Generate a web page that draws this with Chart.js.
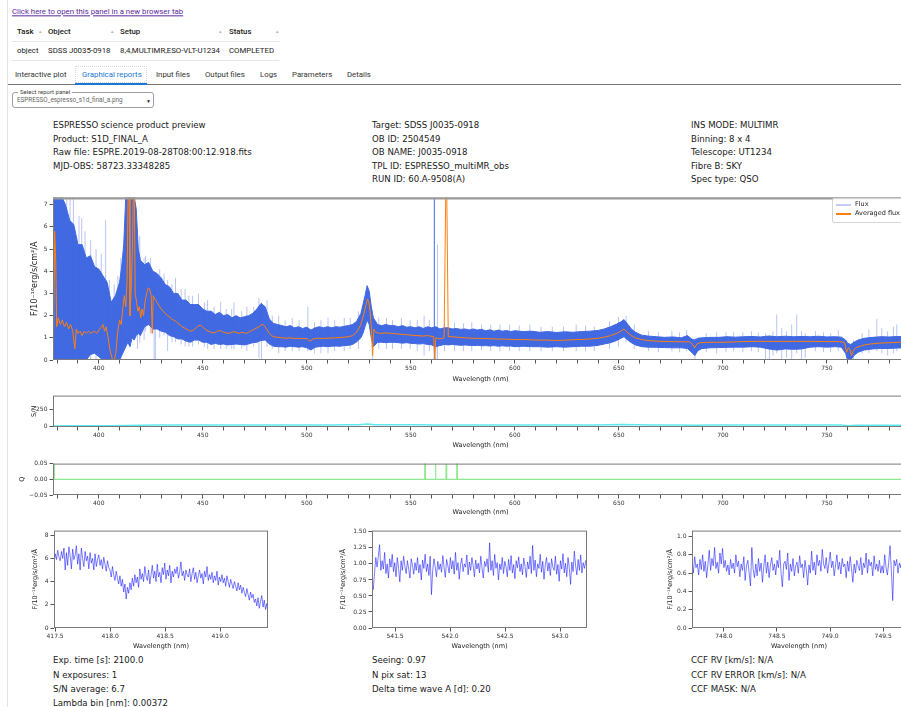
<!DOCTYPE html>
<html>
<head>
<meta charset="utf-8">
<title>ESPRESSO science product preview</title>
<script src="https://cdn.jsdelivr.net/npm/chart.js@4.4.1/dist/chart.umd.min.js"></script>
<style>
  html, body { margin: 0; padding: 0; background: #fff; }
  body { width: 901px; height: 707px; overflow: hidden; position: relative;
         font-family: Roboto, "Noto Sans", sans-serif; color: #222; }
  .t { position: absolute; white-space: nowrap; transform: translateY(-50%); line-height: 1.2; }
  .ui { font-size: 7.8px; }
  .fig { font-family: "DejaVu Sans", sans-serif; font-size: 8.6px; color: #1a1a1a; }
  .sort { font-size: 4.5px; color: #b8b8b8; }
  canvas { position: absolute; }
  .hline { position: absolute; height: 1px; }
</style>
</head>
<body>
<!-- page frame -->
<div style="position:absolute;left:7px;top:0;width:1px;height:707px;background:#e4e4e4;"></div>

<div class="t ui" style="left:12px;top:12px;color:#5b2a9c;text-decoration:underline;">Click here to open this panel in a new browser tab</div>

<!-- task table -->
<div class="t ui" style="left:17px;top:32px;font-weight:500;">Task</div>
<div class="t sort" style="left:38px;top:32px;">▲</div>
<div class="t ui" style="left:48px;top:32px;font-weight:500;">Object</div>
<div class="t sort" style="left:110px;top:32px;">▲</div>
<div class="t ui" style="left:120px;top:32px;font-weight:500;">Setup</div>
<div class="t sort" style="left:218px;top:32px;">▲</div>
<div class="t ui" style="left:229px;top:32px;font-weight:500;">Status</div>
<div class="t sort" style="left:275px;top:32px;">▲</div>
<div class="hline" style="left:12px;top:41px;width:267px;background:#e6e6e6;"></div>
<div class="t ui" style="left:17px;top:51px;">object</div>
<div class="t ui" style="left:48px;top:51px;">SDSS J0035-0918</div>
<div class="t ui" style="left:120px;top:51px;">8,4,MULTIMR,ESO-VLT-U1234</div>
<div class="t ui" style="left:229px;top:51px;">COMPLETED</div>
<div class="hline" style="left:12px;top:60px;width:267px;background:#e6e6e6;"></div>

<!-- tabs -->
<div style="position:absolute;left:75px;top:66px;width:72px;height:17px;border:1px dotted #d6d6d6;box-sizing:border-box;"></div>
<div class="t ui" style="left:15px;top:75px;color:#333;">Interactive plot</div>
<div class="t ui" style="left:82px;top:75px;color:#1976d2;">Graphical reports</div>
<div class="t ui" style="left:156px;top:75px;color:#333;">Input files</div>
<div class="t ui" style="left:205px;top:75px;color:#333;">Output files</div>
<div class="t ui" style="left:260px;top:75px;color:#333;">Logs</div>
<div class="t ui" style="left:292px;top:75px;color:#333;">Parameters</div>
<div class="t ui" style="left:347px;top:75px;color:#333;">Details</div>
<div class="hline" style="left:8px;top:84px;width:893px;background:#777;"></div>
<div class="hline" style="left:75px;top:83px;width:72px;height:2px;background:#1976d2;"></div>

<!-- report selector -->
<div style="position:absolute;left:12px;top:92px;width:142px;height:16px;border:1px solid #9e9e9e;border-radius:3px;box-sizing:border-box;"></div>
<div class="t" style="left:18px;top:92px;font-size:6px;color:#444;background:#fff;padding:0 2px;">Select report panel</div>
<div class="t" style="left:17px;top:100.5px;font-size:6.3px;color:#666;">ESPRESSO_espresso_s1d_final_a.png</div>
<div class="t" style="left:146px;top:100.5px;font-size:5px;color:#222;">▼</div>

<!-- product header -->
<div class="t fig" style="left:53px;top:125px;">ESPRESSO science product preview</div>
<div class="t fig" style="left:53px;top:138.5px;">Product: S1D_FINAL_A</div>
<div class="t fig" style="left:53px;top:152px;">Raw file: ESPRE.2019-08-28T08:00:12.918.fits</div>
<div class="t fig" style="left:53px;top:165.5px;">MJD-OBS: 58723.33348285</div>

<div class="t fig" style="left:372px;top:125px;">Target: SDSS J0035-0918</div>
<div class="t fig" style="left:372px;top:138.5px;">OB ID: 2504549</div>
<div class="t fig" style="left:372px;top:152px;">OB NAME: J0035-0918</div>
<div class="t fig" style="left:372px;top:165.5px;">TPL ID: ESPRESSO_multiMR_obs</div>
<div class="t fig" style="left:372px;top:179px;">RUN ID: 60.A-9508(A)</div>

<div class="t fig" style="left:691px;top:125px;">INS MODE: MULTIMR</div>
<div class="t fig" style="left:691px;top:138.5px;">Binning: 8 x 4</div>
<div class="t fig" style="left:691px;top:152px;">Telescope: UT1234</div>
<div class="t fig" style="left:691px;top:165.5px;">Fibre B: SKY</div>
<div class="t fig" style="left:691px;top:179px;">Spec type: QSO</div>

<canvas id="main"></canvas>
<canvas id="sn"></canvas>
<canvas id="q"></canvas>
<canvas id="z1"></canvas>
<canvas id="z2"></canvas>
<canvas id="z3"></canvas>

<!-- legend of the full spectrum -->
<div style="position:absolute;left:832px;top:198px;width:90px;height:23px;border:1px solid #d4d4d4;border-radius:2px;background:rgba(255,255,255,0.85);"></div>
<div style="position:absolute;left:836px;top:204px;width:15px;height:1.5px;background:#c3cdf4;"></div>
<div class="t fig" style="left:855px;top:204.5px;font-size:6.5px;">Flux</div>
<div style="position:absolute;left:836px;top:213px;width:15px;height:1.5px;background:#ff7f0e;"></div>
<div class="t fig" style="left:855px;top:213.5px;font-size:6.5px;">Averaged flux</div>

<!-- product footer -->
<div class="t fig" style="left:53px;top:660px;">Exp. time [s]: 2100.0</div>
<div class="t fig" style="left:53px;top:674.5px;">N exposures: 1</div>
<div class="t fig" style="left:53px;top:689px;">S/N average: 6.7</div>
<div class="t fig" style="left:53px;top:703px;">Lambda bin [nm]: 0.00372</div>

<div class="t fig" style="left:372px;top:660px;">Seeing: 0.97</div>
<div class="t fig" style="left:372px;top:674.5px;">N pix sat: 13</div>
<div class="t fig" style="left:372px;top:689px;">Delta time wave A [d]: 0.20</div>

<div class="t fig" style="left:691px;top:660px;">CCF RV [km/s]: N/A</div>
<div class="t fig" style="left:691px;top:674.5px;">CCF RV ERROR [km/s]: N/A</div>
<div class="t fig" style="left:691px;top:689px;">CCF MASK: N/A</div>

<script>
// ---------------- full S1D spectrum: flux envelope (nm, 1e-16 erg/s/cm2/A)
const fluxWave = [
  378, 380, 382, 384, 386, 388, 390, 392, 394, 396,
  398, 400, 402, 404, 406, 408, 410, 411, 412, 413,
  414, 415, 416, 417, 418, 419, 420, 422, 424, 426,
  428, 430, 432, 434, 436, 438, 440, 442, 444, 446,
  448, 450, 452, 454, 456, 458, 460, 462, 464, 466,
  468, 470, 472, 474, 476, 478, 480, 482, 484, 486,
  488, 490, 492, 494, 496, 498, 500, 502, 504, 506,
  508, 510, 512, 514, 516, 518, 520, 522, 524, 526,
  527, 528, 529, 530, 531, 532, 534, 536, 538, 540,
  542, 544, 546, 548, 550, 552, 554, 556, 558, 560,
  562, 564, 566, 568, 570, 572, 574, 576, 578, 580,
  582, 584, 586, 588, 590, 592, 594, 596, 598, 600,
  604, 608, 612, 616, 620, 624, 628, 632, 636, 640,
  643, 646, 649, 651, 652.5, 654, 656, 658, 661, 664,
  668, 672, 676, 680, 683, 685, 686.5, 688, 690, 694,
  698, 702, 706, 710, 714, 718, 722, 726, 730, 734,
  738, 742, 746, 750, 754, 757, 759, 760, 761.5, 763,
  765, 768, 772, 776, 780, 784, 788, 790
];
const fluxHigh = [
  7.4, 7.4, 7.4, 7.0, 6.3, 6.1, 5.2, 5.2, 4.6, 4.7,
  4.2, 4.1, 3.8, 3.5, 2.6, 2.9, 3.5, 4.2, 5.2, 7.4,
  7.4, 7.4, 7.4, 7.4, 6.8, 5.0, 4.5, 4.3, 4.4, 4.0,
  3.9, 3.7, 3.4, 3.3, 3.0, 3.0, 2.7, 2.7, 2.5, 2.5,
  2.5, 2.3, 2.2, 2.2, 2.05, 2.15, 2.0, 2.05, 1.9, 2.0,
  1.9, 1.95, 2.0, 2.1, 2.3, 2.55, 2.4, 1.85, 1.65, 1.6,
  1.55, 1.5, 1.55, 1.45, 1.5, 1.42, 1.48, 1.35, 1.45, 1.5,
  1.45, 1.5, 1.45, 1.5, 1.48, 1.52, 1.55, 1.6, 1.75, 2.1,
  2.5, 2.9, 3.35, 3.1, 2.4, 1.9, 1.6, 1.55, 1.6, 1.55,
  1.55, 1.5, 1.55, 1.48, 1.5, 1.45, 1.5, 1.42, 1.5, 1.45,
  1.5, 1.4, 1.45, 1.45, 1.4, 1.42, 1.38, 1.4, 1.35, 1.4,
  1.35, 1.38, 1.32, 1.36, 1.3, 1.35, 1.3, 1.33, 1.28, 1.32,
  1.28, 1.3, 1.25, 1.28, 1.24, 1.27, 1.25, 1.28, 1.3, 1.33,
  1.4, 1.5, 1.62, 1.72, 1.82, 1.65, 1.4, 1.25, 1.12, 1.08,
  1.05, 1.02, 1.04, 1.0, 1.1, 0.95, 0.9, 0.98, 1.0, 1.02,
  1.02, 1.05, 1.03, 1.05, 1.06, 1.04, 1.08, 1.05, 1.07, 1.05,
  1.06, 1.05, 1.07, 1.04, 1.05, 1.03, 0.9, 0.75, 0.7, 0.8,
  0.9, 0.98, 1.02, 1.05, 1.04, 1.06, 1.05, 1.05
];
const fluxLow = [
  0, 0, 0, 0, 0, 0, 0, 0.05, 0, 0.25,
  0.3, 0.15, 0, 0, 0, 0, 0, 0.2, 0.4, 0.6,
  0.8, 0.6, 1.0, 0.9, 1.1, 1.2, 1.1, 1.5, 1.6, 1.4,
  1.4, 1.3, 1.25, 1.1, 1.05, 0.95, 0.95, 0.85, 0.8, 0.9,
  0.9, 0.8, 0.8, 0.7, 0.75, 0.7, 0.72, 0.68, 0.7, 0.72,
  0.7, 0.68, 0.72, 0.78, 0.8, 0.88, 0.9, 0.72, 0.62, 0.6,
  0.6, 0.58, 0.62, 0.6, 0.58, 0.6, 0.55, 0.45, 0.58, 0.6,
  0.62, 0.6, 0.62, 0.63, 0.62, 0.65, 0.66, 0.7, 0.82, 1.0,
  1.2, 1.5, 1.8, 1.6, 1.0, 0.6, 0.8, 0.8, 0.78, 0.8,
  0.8, 0.78, 0.76, 0.78, 0.75, 0.74, 0.72, 0.74, 0.7, 0.68,
  0.6, 0.65, 0.7, 0.68, 0.7, 0.68, 0.66, 0.68, 0.66, 0.65,
  0.66, 0.64, 0.65, 0.63, 0.65, 0.62, 0.64, 0.62, 0.63, 0.6,
  0.62, 0.6, 0.6, 0.58, 0.6, 0.58, 0.6, 0.62, 0.62, 0.66,
  0.72, 0.78, 0.88, 0.98, 1.05, 0.92, 0.78, 0.68, 0.6, 0.58,
  0.57, 0.56, 0.55, 0.55, 0.52, 0.35, 0.2, 0.42, 0.52, 0.55,
  0.56, 0.57, 0.58, 0.58, 0.6, 0.58, 0.5, 0.45, 0.5, 0.48,
  0.5, 0.58, 0.6, 0.58, 0.6, 0.58, 0.3, 0.0, 0.0, 0.2,
  0.35, 0.45, 0.5, 0.52, 0.52, 0.54, 0.55, 0.55
];

// isolated flux pixels (outliers, cosmics, sky residuals): wavelength, low, high
const spikeWave = [379.2, 380.6, 383.1, 384.6, 386.2, 387.8, 390.5, 391.8, 393.4, 396.1,
  398.7, 401.2, 403.3, 405.1, 407.4, 409.2, 410.6, 418.6, 419.7, 421.8,
  426.6, 427.2, 433.1, 436.9, 441.5, 447.9, 452.3, 458.6, 465.0, 471.2,
  477.0, 478.2, 486.5, 493.0, 500.5, 506.8, 510.2, 518.0, 524.8, 531.7,
  538.3, 545.5, 553.1, 556.4, 562.8, 571.0, 579.3, 588.4, 597.5, 607.2,
  618.0, 629.5, 638.2, 653.5, 664.3, 675.5, 682.6, 686.6, 697.0, 705.2,
  713.8, 720.5, 722.4, 724.1, 725.9, 728.3, 730.6, 733.1, 735.5, 737.8,
  739.6, 744.5, 755.5, 759.6, 762.8, 770.2, 774.0, 776.4, 779.2, 782.0,
  783.6, 786.3,
  422.5, 424.8, 429.3, 431.4, 435.2, 439.6, 443.3, 445.1, 450.8, 455.4,
  461.3, 463.9, 468.7, 474.5, 480.9, 483.4, 489.6, 496.3, 503.7, 513.4,
  520.9, 534.6, 541.2, 549.7, 558.9, 566.2, 575.3, 584.0, 592.8, 602.1,
  612.6, 623.4, 634.0, 645.5, 649.8, 657.4, 669.0, 679.2, 692.0, 701.5,
  709.6, 717.0, 748.4, 751.8, 767.0, 788.5, 562.0];
const spikeLow = [0, 0, 0, 0, 0, 0, 0, 0, 0, 0,
  0, 0, 0, 0, 0, 0, 0, 0.5, 0.8, 0.9,
  0, 0, 0.4, 0.8, 0.6, 0.7, 0.5, 0.5, 0.5, 0.4,
  0.1, 0, 0.3, 0.4, 0.4, 0.3, 0.3, 0.4, 0.5, 0,
  0.5, 0.5, 0.4, 0.2, 0, 0.4, 0.4, 0.4, 0.4, 0.4,
  0.4, 0.4, 0.4, 0.8, 0.4, 0.4, 0.4, 0, 0.3, 0.4,
  0.4, 0, 0, 0.2, 0.3, 0, 0.1, 0, 0.3, 0,
  0.1, 0.4, 0.4, 0, 0, 0.3, 0.4, 0.3, 0.2, 0.3,
  0.4, 0.3,
  1.3, 1.2, 1.0, 1.1, 0.8, 0.7, 0.6, 0.6, 0.6, 0.5,
  0.5, 0.5, 0.5, 0.6, 0.6, 0.5, 0.4, 0.4, 0.3, 0.4,
  0.5, 0.5, 0.5, 0.5, 0.4, 0.4, 0.4, 0.45, 0.4, 0.4,
  0.4, 0.4, 0.4, 0.5, 0.6, 0.5, 0.35, 0.35, 0.35, 0.35,
  0.35, 0.35, 0.35, 0.35, 0.3, 0.3, 0];
const spikeHigh = [7.4, 7.4, 7.4, 7.4, 7.4, 7.4, 6.5, 6.4, 5.8, 5.4,
  5.0, 4.8, 6.3, 3.6, 3.4, 3.8, 4.6, 5.0, 5.6, 4.6,
  4.0, 3.5, 3.6, 3.7, 3.2, 3.0, 2.7, 2.6, 2.6, 2.4,
  2.8, 2.6, 2.0, 1.9, 2.4, 1.8, 1.9, 1.9, 2.2, 2.0,
  1.9, 1.9, 1.8, 2.0, 5.2, 1.7, 1.7, 1.6, 1.6, 1.6,
  1.5, 1.6, 1.5, 2.0, 1.3, 1.3, 1.35, 1.0, 1.25, 1.25,
  1.3, 1.2, 1.1, 1.3, 2.05, 1.45, 1.3, 1.6, 2.05, 1.3,
  1.2, 1.3, 1.35, 0.9, 0.9, 1.4, 1.85, 1.45, 1.3, 1.5,
  1.6, 1.4,
  4.7, 4.6, 4.1, 3.9, 3.4, 3.2, 2.9, 2.9, 2.6, 2.4,
  2.3, 2.3, 2.2, 2.4, 2.7, 2.0, 1.8, 1.8, 1.7, 1.8,
  1.9, 1.9, 1.8, 1.8, 1.8, 1.7, 1.65, 1.6, 1.6, 1.55,
  1.5, 1.5, 1.55, 1.75, 1.95, 1.6, 1.25, 1.25, 1.2, 1.25,
  1.25, 1.25, 1.25, 1.2, 1.2, 1.3, 1.5];
// bright pixel column at 561.3 nm
const hotWave = [561.3];
const hotLow = [0];
const hotHigh = [7.4];

// averaged (smoothed) flux
const avgWave = [
  378.2, 378.8, 379.3, 379.8, 380.5, 381.5, 382.5, 383.5, 384.5, 385.5,
  386.5, 387.5, 388.5, 389.2, 390, 391, 392, 393, 394, 395,
  396, 397, 398, 399, 400, 401, 402, 402.8, 403.5, 404.5,
  405.5, 406.5, 407.5, 408.2, 409, 410, 410.8, 411.5, 412.3, 413,
  413.6, 414.1, 414.6, 415.0, 415.5, 416.2, 416.6, 417.1, 417.5, 418.2,
  418.8, 419.5, 420.2, 420.8, 421.5, 422.2, 423, 423.8, 424.5, 425.2,
  425.7, 426.2, 427, 428, 429, 430, 431, 432, 433, 434,
  435, 436, 437, 438, 439, 440, 441, 442, 443, 444,
  445, 446, 447, 448, 449, 450, 451, 452, 453, 454,
  455, 456, 457, 458, 459, 460, 461, 462, 463, 464,
  465, 466, 467, 468, 469, 470, 471, 472, 473, 474,
  475, 476, 477, 478, 479, 480, 481, 482, 483, 484,
  486, 488, 490, 492, 494, 496, 498, 500, 501.5, 503,
  505, 508, 511, 514, 517, 520, 522, 524, 526, 527.5,
  528.5, 529.2, 529.8, 530.4, 531, 531.6, 532.2, 533, 535, 538,
  541, 544, 547, 550, 553, 556, 558, 561.0, 561.5, 562.0,
  564, 566, 566.8, 567.3, 568, 570, 573, 576, 580, 585,
  590, 595, 600, 605, 610, 615, 620, 625, 630, 635,
  640, 643, 646, 649, 651, 652.5, 654, 656, 658, 661,
  665, 670, 675, 680, 684, 685.5, 686.5, 687.5, 689, 693,
  700, 707, 714, 721, 728, 735, 742, 749, 756, 758.5,
  759.5, 760.3, 761, 761.8, 762.8, 764, 766, 768, 771, 775,
  780, 785, 790
];
const avgFlux = [
  0.3, 5.8, 4.5, 1.5, 1.9, 1.6, 1.8, 1.5, 1.7, 1.4,
  1.6, 1.3, 0.5, 1.4, 1.2, 1.3, 1.1, 1.3, 1.2, 1.3,
  1.2, 1.25, 1.3, 1.2, 1.35, 1.45, 1.6, 1.3, 1.5, 1.0,
  0.4, 0.05, 0.0, 0.3, 1.2, 1.8, 1.6, 2.3, 2.9, 2.4,
  3.6, 7.5, 7.5, 2.0, 3.0, 5.0, 7.5, 7.5, 3.0, 2.6,
  2.2, 2.4, 1.9, 2.3, 2.0, 2.6, 3.0, 3.25, 3.2, 2.9,
  1.2, 2.9, 2.75, 2.6, 2.45, 2.3, 2.2, 2.1, 2.0, 1.95,
  1.85, 1.8, 1.75, 1.65, 1.6, 1.5, 1.45, 1.4, 1.35, 1.3,
  1.32, 1.38, 1.47, 1.55, 1.56, 1.48, 1.4, 1.33, 1.28, 1.25,
  1.22, 1.24, 1.3, 1.33, 1.3, 1.25, 1.22, 1.2, 1.22, 1.25,
  1.28, 1.25, 1.2, 1.22, 1.25, 1.22, 1.2, 1.25, 1.3, 1.35,
  1.4, 1.45, 1.5, 1.58, 1.6, 1.5, 1.35, 1.2, 1.1, 1.05,
  1.02, 1.0, 0.98, 1.0, 0.97, 0.98, 0.96, 0.97, 0.85, 0.95,
  0.98, 0.97, 0.99, 1.0, 1.02, 1.05, 1.1, 1.25, 1.6, 2.1,
  2.5, 2.75, 2.6, 2.2, 1.5, 0.2, 1.4, 1.25, 1.2, 1.22,
  1.2, 1.17, 1.15, 1.12, 1.1, 1.08, 1.1, 1.05, 0.05, 1.0,
  0.95, 1.0, 7.5, 7.5, 1.05, 1.05, 1.02, 1.0, 0.98, 0.97,
  0.95, 0.94, 0.92, 0.92, 0.9, 0.9, 0.88, 0.9, 0.92, 0.94,
  0.98, 1.03, 1.1, 1.2, 1.3, 1.4, 1.25, 1.1, 1.0, 0.92,
  0.87, 0.84, 0.83, 0.82, 0.82, 0.7, 0.55, 0.72, 0.78, 0.8,
  0.8, 0.82, 0.84, 0.84, 0.84, 0.84, 0.84, 0.83, 0.83, 0.8,
  0.35, 0.55, 0.5, 0.2, 0.45, 0.55, 0.62, 0.68, 0.72, 0.76,
  0.78, 0.8, 0.8
];

// signal to noise per wavelength
const snWave = [378, 385, 392, 399, 406, 413, 420, 427, 434, 441,
  448, 455, 462, 469, 476, 483, 490, 497, 504, 511,
  518, 525, 529, 533, 540, 547, 554, 561, 568, 575,
  582, 589, 596, 603, 610, 617, 624, 631, 638, 645,
  652, 659, 666, 673, 680, 687, 694, 701, 708, 715,
  722, 729, 736, 743, 750, 757, 760, 764, 771, 778,
  785, 790];
const snValue = [2, 4, 6, 6, 4, 8, 14, 16, 16, 17,
  17, 17, 18, 18, 18, 18, 18, 18, 18, 18,
  19, 21, 30, 21, 19, 19, 19, 18, 18, 18,
  18, 18, 18, 18, 18, 18, 18, 18, 18, 19,
  24, 19, 18, 18, 16, 14, 16, 16, 16, 16,
  16, 16, 16, 16, 16, 16, 5, 12, 14, 14,
  14, 14];

// quality flags
const qWave = [378, 378.6, 378.65, 556.6, 556.7, 556.9, 557.0, 561.7, 561.8, 562.0,
  562.1, 566.9, 567.0, 567.2, 567.3, 572.0, 572.1, 572.3, 572.4, 790];
const qValue = [0.05, 0.05, 0, 0, 0.05, 0.05, 0, 0, 0.05, 0.05,
  0, 0, 0.05, 0.05, 0, 0, 0.05, 0.05, 0, 0];

// tick positions
const waveTicks = [380, 390, 400, 410, 420, 430, 440, 450, 460, 470, 480, 490, 500, 510,
  520, 530, 540, 550, 560, 570, 580, 590, 600, 610, 620, 630, 640, 650, 660, 670,
  680, 690, 700, 710, 720, 730, 740, 750, 760, 770, 780];
const waveLabels = [400, 450, 500, 550, 600, 650, 700, 750];
const fluxTicks = [0, 1, 2, 3, 4, 5, 6, 7];
const snTicks = [0, 250];
const qTicks = [-0.05, 0, 0.05];

// zoomed windows (417-419 nm, 541-543 nm, 748-750 nm)
const zoom1Range = [417.49, 419.435];
const zoom1Flux = [
  5.6, 6.4, 5.9, 6.7, 6.1, 5.8, 6.6, 6.0, 6.9,
  5.0, 6.5, 5.4, 7.0, 6.2, 5.1, 6.8, 5.9, 6.3,
  7.1, 5.5, 6.4, 5.0, 6.9, 6.0, 5.3, 6.6, 5.8,
  6.2, 5.1, 6.5, 5.6, 6.0, 5.0, 6.4, 5.3, 5.9,
  6.3, 5.4, 5.9, 5.1, 6.1, 5.5, 4.9, 5.8, 5.2,
  5.0, 4.4, 5.3, 4.6, 4.1, 4.9, 4.3, 3.8, 4.5,
  3.6, 4.2, 3.1, 3.8, 2.5, 3.5, 3.0, 3.9, 3.3,
  4.3, 3.6, 4.6, 3.9, 4.4, 3.5, 5.1, 4.2, 4.7,
  4.0, 5.3, 4.5, 4.1, 5.0, 3.8, 4.6, 5.4, 4.3,
  4.9, 4.0, 5.5, 4.4, 4.8, 3.9, 5.2, 4.6, 5.6,
  4.2, 5.0, 4.5, 5.4, 3.9, 4.9, 4.4, 5.1, 4.7,
  5.3, 4.3, 4.8, 5.7, 4.5, 4.9, 4.1, 5.0, 4.6,
  4.4, 5.1, 4.0, 4.7, 5.2, 4.2, 4.8, 3.9, 4.5,
  5.0, 4.3, 4.7, 3.8, 4.9, 4.4, 5.3, 4.1, 4.6,
  4.2, 4.8, 3.9, 4.5, 4.1, 4.9, 3.7, 4.4, 4.0,
  4.6, 3.9, 4.3, 3.6, 4.5, 4.0, 3.5, 4.2, 3.8,
  3.4, 4.0, 3.6, 3.2, 3.9, 3.3, 3.7, 3.0, 3.5,
  3.1, 2.7, 3.4, 2.9, 2.4, 3.1, 2.6, 2.9, 2.2,
  2.5, 1.9, 2.6, 1.7, 2.3, 2.8, 1.8, 2.4, 1.6, 2.1, 1.3
];
const zoom2Range = [541.29, 543.245];
const zoom2Flux = [
  0.7, 0.6, 0.85, 1.1, 0.95, 1.12, 1.3, 0.9, 1.05,
  0.92, 1.18, 0.85, 1.0, 0.78, 1.08, 0.95, 1.15, 0.88,
  1.02, 0.8, 1.1, 0.93, 0.72, 1.05, 0.9, 1.12, 0.96,
  0.85, 1.05, 0.92, 0.78, 1.08, 0.98, 0.84, 1.02, 0.9,
  1.1, 0.86, 0.99, 0.75, 1.06, 0.93, 1.15, 0.88, 1.0,
  0.82, 1.12, 0.52, 0.9, 1.08, 0.95, 0.8, 1.04, 0.91,
  1.0, 0.87, 1.13, 0.94, 0.79, 1.07, 0.97, 0.86, 1.1,
  0.92, 1.05, 0.84, 1.18, 0.9, 1.02, 0.76, 0.99, 1.09,
  0.88, 1.0, 0.95, 1.14, 0.83, 1.03, 0.9, 1.1, 0.97,
  0.8, 1.06, 0.92, 1.01, 0.86, 1.12, 0.94, 0.78, 1.04,
  0.96, 1.08, 0.87, 1.33, 0.9, 1.05, 0.82, 1.15, 0.93,
  1.02, 0.75, 1.0, 0.91, 1.1, 0.85, 1.04, 0.95, 0.8,
  1.07, 0.9, 1.13, 0.86, 0.99, 0.77, 1.05, 0.94, 1.11,
  0.88, 1.0, 0.83, 1.09, 0.96, 0.79, 1.03, 0.92, 1.12,
  0.85, 1.29, 0.9, 1.06, 0.8, 1.0, 0.93, 1.15, 0.87,
  1.04, 0.76, 0.98, 1.1, 0.89, 1.02, 0.82, 1.08, 0.95,
  0.9, 1.12, 0.84, 0.99, 0.73, 1.05, 0.92, 1.16, 0.86,
  1.01, 0.8, 1.1, 0.94, 0.68, 1.03, 0.88, 1.2, 0.97,
  0.83, 1.07, 0.9, 1.14, 0.86, 1.02, 0.93, 1.05, 1.0
];
const zoom3Range = [747.70, 749.715];
const zoom3Flux = [
  0.72, 0.6, 0.78, 0.66, 0.7, 0.58, 0.75, 0.64, 0.8,
  0.62, 0.73, 0.55, 0.7, 0.85, 0.63, 0.76, 0.68, 0.88,
  0.65, 0.72, 0.6, 0.82, 0.7, 0.87, 0.66, 0.74, 0.62,
  0.69, 0.58, 0.75, 0.65, 0.71, 0.6, 0.8, 0.67, 0.73,
  0.56, 0.7, 0.63, 0.78, 0.52, 0.68, 0.74, 0.6, 0.46,
  0.88, 0.64, 0.55, 0.7, 0.57, 0.76, 0.62, 0.71, 0.5,
  0.67, 0.8, 0.6, 0.72, 0.55, 0.69, 0.77, 0.63, 0.7,
  0.58, 0.74, 0.66, 0.85, 0.6, 0.45, 0.7, 0.73, 0.64,
  0.82, 0.52, 0.7, 0.62, 0.76, 0.57, 0.68, 0.72, 0.6,
  0.79, 0.66, 0.7, 0.55, 0.74, 0.64, 0.47, 0.69, 0.6,
  0.84, 0.63, 0.72, 0.58, 0.8, 0.68, 0.74, 0.62, 0.86,
  0.7, 0.65, 0.77, 0.6, 0.71, 0.83, 0.66, 0.73, 0.57,
  0.69, 0.8, 0.64, 0.72, 0.59, 0.76, 0.67, 0.7, 0.55,
  0.73, 0.62, 0.78, 0.65, 0.5, 0.7, 0.6, 0.74, 0.68,
  0.63, 0.77, 0.58, 0.71, 0.66, 0.82, 0.6, 0.75, 0.68,
  0.72, 0.57, 0.79, 0.64, 0.7, 0.62, 0.74, 0.6, 0.68,
  0.6, 0.8, 0.66, 0.58, 0.72, 0.9, 0.62, 0.3, 0.74,
  0.68, 0.75, 0.6, 0.71, 0.66, 0.78, 0.63, 0.7, 0.65
];

// ---------------- drawing helpers
const DV = "'DejaVu Sans', sans-serif";
const FLUX_TITLE = 'F/10\u207B\u00B9\u2076erg/s/cm\u00B2/\u00C5';
const minus = s => s.replace('-', '\u2212');

const framePlugin = {
  id: 'frame',
  afterDatasetsDraw(chart, args, opts) {
    const a = chart.chartArea, ctx = chart.ctx;
    ctx.save();
    ctx.strokeStyle = opts.color || '#7a7a7a';
    ctx.lineWidth = 1;
    ctx.strokeRect(a.left + 0.5, a.top + 0.5, a.right - a.left - 1, a.bottom - a.top - 1);
    if (opts.topWidth) {
      ctx.lineWidth = opts.topWidth;
      ctx.strokeStyle = opts.topColor || '#9a9a9a';
      ctx.beginPath();
      ctx.moveTo(a.left, a.top + opts.topWidth / 2);
      ctx.lineTo(a.right, a.top + opts.topWidth / 2);
      ctx.stroke();
    }
    ctx.restore();
  }
};

const xy = (xs, ys) => xs.map((x, i) => ({x: x, y: ys[i]}));
const columns = (ws, lo, hi) => ws.flatMap((w, i) => [{x: w, y: lo[i]}, {x: w, y: hi[i]}, {x: w, y: null}]);
const onRange = (range, ys) => ys.map((y, i) => ({x: range[0] + (range[1] - range[0]) * i / (ys.length - 1), y: y}));

function scale(a, isX, o) {
  return {
    type: 'linear', min: a.min, max: a.max,
    afterFit: s => { if (isX) s.height = o.xH; else s.width = o.yW; },
    afterBuildTicks: s => { s.ticks = a.ticks.map(v => ({value: v})); },
    ticks: {
      font: {family: DV, size: 6}, color: '#333', padding: isX ? 1 : 2,
      autoSkip: false, maxRotation: 0, minRotation: 0, callback: a.fmt
    },
    grid: {drawOnChartArea: false, drawTicks: true, tickLength: 3.5, color: '#555', lineWidth: 1},
    border: {display: false},
    title: {
      display: !!a.title, text: a.title || '', color: '#222', padding: 0,
      font: {family: DV, size: a.titleSize || 6.5}
    }
  };
}

function panel(id, box, o) {
  const PT = 4, PR = 4;
  const cv = document.getElementById(id);
  const w = box.r - box.l + o.yW + PR;
  const h = box.b - box.t + PT + o.xH;
  cv.width = w; cv.height = h;
  cv.style.left = (box.l - o.yW) + 'px';
  cv.style.top = (box.t - PT) + 'px';
  cv.style.width = w + 'px';
  cv.style.height = h + 'px';
  return new Chart(cv, {
    type: 'line',
    data: {datasets: o.datasets},
    options: {
      responsive: false, animation: false, devicePixelRatio: 1,
      layout: {padding: {left: 0, top: PT, right: PR, bottom: 0}},
      plugins: {legend: {display: false}, tooltip: {enabled: false}, frame: o.frame || {}},
      elements: {point: {radius: 0, hitRadius: 0}, line: {tension: 0}},
      scales: {x: scale(o.x, true, o), y: scale(o.y, false, o)}
    },
    plugins: [framePlugin]
  });
}

const waveAxis = {
  min: 378, max: 789, ticks: waveTicks, title: 'Wavelength (nm)',
  fmt: v => waveLabels.includes(v) ? String(v) : ''
};
const line = (data, color, width, order, extra) => Object.assign({
  data: data, borderColor: color, borderWidth: width, pointRadius: 0,
  fill: false, spanGaps: false, order: order
}, extra || {});

// ---------------- full spectrum
panel('main', {l: 53, t: 196, r: 908, b: 360}, {
  yW: 23, xH: 23,
  frame: {topWidth: 2},
  x: waveAxis,
  y: {min: 0, max: 7.32, ticks: fluxTicks, fmt: v => String(v), title: FLUX_TITLE, titleSize: 8},
  datasets: [
    line(xy(avgWave, avgFlux), '#ff7f0e', 1, 0),
    line(columns(hotWave, hotLow, hotHigh), 'rgb(65,105,225)', 1, 1),
    line(columns(spikeWave, spikeLow, spikeHigh), 'rgba(65,105,225,0.38)', 1, 2),
    line(xy(fluxWave, fluxLow), 'rgb(65,105,225)', 1, 4),
    line(xy(fluxWave, fluxHigh), 'rgb(65,105,225)', 1, 3, {fill: '-1', backgroundColor: 'rgb(65,105,225)'})
  ]
});

// ---------------- S/N
panel('sn', {l: 53, t: 394, r: 908, b: 427}, {
  yW: 23, xH: 22,
  x: waveAxis,
  y: {min: -14, max: 465, ticks: snTicks, fmt: v => String(v), title: 'S/N'},
  datasets: [line(xy(snWave, snValue), 'rgba(40,225,235,0.75)', 1.5, 0)]
});

// ---------------- quality
panel('q', {l: 53, t: 462, r: 908, b: 495}, {
  yW: 35, xH: 21,
  x: waveAxis,
  y: {min: -0.05, max: 0.05, ticks: qTicks, fmt: v => minus(v.toFixed(2)), title: 'Q'},
  datasets: [line(xy(qWave, qValue), '#8fe88f', 1.2, 0)]
});

// ---------------- zoomed windows
const zoomLine = 'rgba(20,20,255,0.62)';
panel('z1', {l: 54, t: 529, r: 268, b: 628}, {
  yW: 23, xH: 22,
  x: {min: zoom1Range[0], max: zoom1Range[1], ticks: [417.5, 418.0, 418.5, 419.0], fmt: v => v.toFixed(1), title: 'Wavelength (nm)'},
  y: {min: 0, max: 8.4, ticks: [0, 2, 4, 6, 8], fmt: v => String(v), title: FLUX_TITLE},
  datasets: [line(onRange(zoom1Range, zoom1Flux), zoomLine, 0.9, 0)]
});
panel('z2', {l: 372, t: 529, r: 587, b: 628}, {
  yW: 33, xH: 22,
  x: {min: zoom2Range[0], max: zoom2Range[1], ticks: [541.5, 542.0, 542.5, 543.0], fmt: v => v.toFixed(1), title: 'Wavelength (nm)'},
  y: {min: 0, max: 1.52, ticks: [0, 0.25, 0.5, 0.75, 1.0, 1.25, 1.5], fmt: v => v.toFixed(2), title: FLUX_TITLE},
  datasets: [line(onRange(zoom2Range, zoom2Flux), zoomLine, 0.9, 0)]
});
panel('z3', {l: 692, t: 529, r: 906, b: 628}, {
  yW: 26, xH: 22,
  x: {min: zoom3Range[0], max: zoom3Range[1], ticks: [748.0, 748.5, 749.0, 749.5], fmt: v => v.toFixed(1), title: 'Wavelength (nm)'},
  y: {min: 0, max: 1.065, ticks: [0, 0.2, 0.4, 0.6, 0.8, 1.0], fmt: v => v.toFixed(1), title: FLUX_TITLE},
  datasets: [line(onRange(zoom3Range, zoom3Flux), zoomLine, 0.9, 0)]
});
</script>
</body>
</html>
